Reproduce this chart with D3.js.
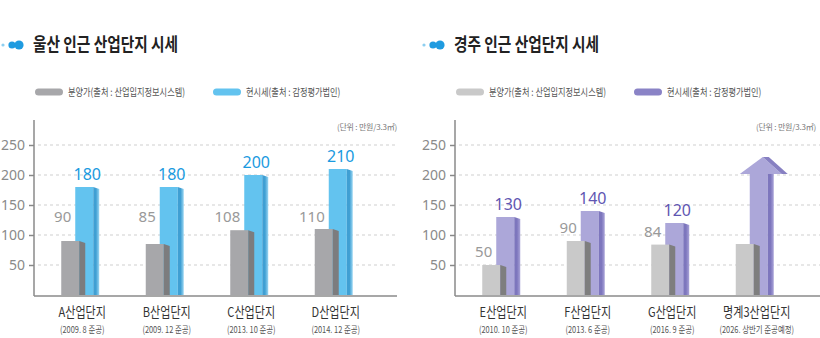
<!DOCTYPE html>
<html>
<head>
<meta charset="utf-8">
<script src="https://cdn.jsdelivr.net/npm/d3@7"></script>
<style>
  body { margin: 0; background: #fff; }
  svg { display: block; font-family: "Noto Sans CJK KR", "Noto Sans", sans-serif; }
</style>
</head>
<body>
<svg id="chart" width="820" height="338"></svg>
<script>
// data
const ulsanSites = ['A산업단지', 'B산업단지', 'C산업단지', 'D산업단지']
const ulsanDates = ['(2009. 8 준공)', '(2009. 12 준공)', '(2013. 10 준공)', '(2014. 12 준공)']
const ulsanSale = [90, 85, 108, 110]
const ulsanMarket = [180, 180, 200, 210]

const gyeongjuSites = ['E산업단지', 'F산업단지', 'G산업단지', '명계3산업단지']
const gyeongjuDates = ['(2010. 10 준공)', '(2013. 6 준공)', '(2016. 9 준공)', '(2026. 상반기 준공예정)']
const gyeongjuSale = [50, 90, 84, 85]
const gyeongjuMarket = [130, 140, 120, 230]
const gyeongjuPlanned = [false, false, false, true]

const yTicks = [50, 100, 150, 200, 250]
const legendSale = '분양가(출처 : 산업입지정보시스템)'
const legendMarket = '현시세(출처 : 감정평가법인)'
const unitText = '(단위 : 만원/3.3㎡)'

const svg = d3.select('#chart')
const defs = svg.append('defs')

// side gradients for the 3d look
function sideGrad(id, c1, c2) {
    const g = defs.append('linearGradient').attr('id', id).attr('x1', 0).attr('x2', 1).attr('y1', 0).attr('y2', 0)
    g.append('stop').attr('offset', '0%').attr('stop-color', c1)
    g.append('stop').attr('offset', '45%').attr('stop-color', c1)
    g.append('stop').attr('offset', '100%').attr('stop-color', c2)
}
sideGrad('blueSide', '#3f9fd3', '#9ad6f2')
sideGrad('purpleSide', '#7d76bd', '#a9a3d8')

// squeeze text horizontally (the original uses a condensed face)
function squeeze(sel, k) {
    sel.each(function(){
        const w = this.getComputedTextLength()
        d3.select(this).attr('textLength', w * k).attr('lengthAdjust', 'spacingAndGlyphs')
    })
}

function drawChart(opt) {
    const ox = opt.ox
    const g = svg.append('g')
    const y = d3.scaleLinear().domain([0, 250]).range([295, 145])
    const x = d3.scaleBand().domain(opt.sites).range([ox + 38, ox + 376])
    const cx = (s) => x(s) + x.bandwidth() / 2

    // title with dots
    g.append('circle').attr('cx', ox + 3).attr('cy', 45).attr('r', 1.6).attr('fill', '#8ecff0')
    g.append('circle').attr('cx', ox + 12).attr('cy', 45).attr('r', 3.6).attr('fill', '#1f9be0')
    g.append('circle').attr('cx', ox + 19).attr('cy', 45).attr('r', 4.6).attr('fill', '#1f9be0')
    g.append('text').attr('x', ox + 33).attr('y', 51).attr('font-size', 18).attr('font-weight', 'bold')
        .attr('fill', '#222').text(opt.title)
        .attr('textLength', 145).attr('lengthAdjust', 'spacingAndGlyphs')

    // legend
    const legend = [
        {label: legendSale, color: opt.saleColor, x: ox + 35},
        {label: legendMarket, color: opt.marketLegend, x: ox + 213}
    ]
    legend.forEach(l => {
        g.append('rect').attr('x', l.x).attr('y', 88.5).attr('width', 28).attr('height', 7).attr('rx', 3.5).attr('fill', l.color)
        g.append('text').attr('x', l.x + 33).attr('y', 95.5).attr('font-size', 10.5).attr('fill', '#555')
            .text(l.label).call(squeeze, 0.78)
    })

    // unit
    g.append('text').attr('x', opt.unitX).attr('y', 130).attr('text-anchor', 'end')
        .attr('font-size', 8).attr('fill', '#777').attr('letter-spacing', -0.2).text(unitText)

    // grid
    g.selectAll('.grid').data(yTicks).join('line')
        .attr('x1', ox + 38).attr('x2', opt.gridEnd)
        .attr('y1', d => y(d)).attr('y2', d => y(d))
        .attr('stroke', '#cfcfcf').attr('stroke-dasharray', '3,3')

    // y axis
    const axis = g.append('g').attr('transform', `translate(${ox + 34},0)`)
        .call(d3.axisLeft(y).tickValues(yTicks).tickSize(5).tickPadding(4))
    axis.select('.domain').remove()
    axis.selectAll('line').attr('stroke', '#888').attr('stroke-width', 1.5)
    axis.selectAll('text').attr('font-size', 14).attr('fill', '#8a8a8a')
        .attr('font-family', '"Noto Sans", sans-serif')
    g.append('line').attr('x1', ox + 34).attr('x2', ox + 34).attr('y1', 120).attr('y2', 296)
        .attr('stroke', '#8a8a8a').attr('stroke-width', 1.5)

    const rows = opt.sites.map((s, i) => ({
        site: s, date: opt.dates[i], sale: opt.sale[i], market: opt.market[i],
        planned: opt.planned ? opt.planned[i] : false
    }))
    const w = 18, side = 6

    // market bars (behind)
    rows.forEach(d => {
        const bx = cx(d.site) - 5
        if (d.planned) {
            const top = y(d.market), hb = top + 17
            g.append('rect').attr('x', bx).attr('y', hb).attr('width', w).attr('height', y(0) - hb).attr('fill', opt.marketColor)
            g.append('rect').attr('x', bx + w).attr('y', hb).attr('width', side).attr('height', y(0) - hb).attr('fill', 'url(#purpleSide)')
            g.append('polygon').attr('points', [[bx - 10, hb], [bx + 13, top], [bx + 32, hb]].join(' '))
                .attr('fill', opt.marketColor)
            g.append('polygon').attr('points', [[bx + 13, top], [bx + 19, top], [bx + 38, hb], [bx + 32, hb]].join(' '))
                .attr('fill', opt.marketSide)
            return
        }
        const top = y(d.market)
        g.append('rect').attr('x', bx).attr('y', top).attr('width', w).attr('height', y(0) - top).attr('fill', opt.marketColor)
        g.append('polygon').attr('points', [[bx + w, top], [bx + w + side, top + 2], [bx + w + side, y(0)], [bx + w, y(0)]].join(' '))
            .attr('fill', opt.marketGrad)
        g.append('text').attr('x', bx + (w + side) / 2).attr('y', top - 7).attr('text-anchor', 'middle')
            .attr('font-size', 16).attr('fill', opt.labelColor).attr('font-family', '"Noto Sans", sans-serif')
            .text(d.market)
    })

    // sale bars (front)
    rows.forEach(d => {
        const gx = cx(d.site) - 19
        const top = y(d.sale)
        g.append('rect').attr('x', gx).attr('y', top).attr('width', w).attr('height', y(0) - top).attr('fill', opt.saleColor)
        g.append('polygon').attr('points', [[gx + w, top], [gx + w + side, top + 2], [gx + w + side, y(0)], [gx + w, y(0)]].join(' '))
            .attr('fill', opt.saleSide)
        if (d.planned) return
        const ly = opt.saleLabelFixed ? y(opt.saleLabelFixed) : top - 8
        g.append('text').attr('x', gx + 10).attr('y', ly).attr('text-anchor', 'end')
            .attr('font-size', 15).attr('fill', '#999').attr('font-family', '"Noto Sans", sans-serif')
            .text(d.sale)
    })

    // baseline
    g.append('line').attr('x1', ox + 34).attr('x2', opt.gridEnd).attr('y1', 296).attr('y2', 296)
        .attr('stroke', '#8a8a8a').attr('stroke-width', 1.5)

    // category labels
    rows.forEach(d => {
        g.append('text').attr('x', cx(d.site) + 2).attr('y', 317).attr('text-anchor', 'middle')
            .attr('font-size', 13.5).attr('fill', '#333').text(d.site).call(squeeze, 0.82)
        g.append('text').attr('x', cx(d.site) + 2).attr('y', 333).attr('text-anchor', 'middle')
            .attr('font-size', 9.5).attr('fill', '#555').text(d.date).call(squeeze, 0.78)
    })
}

drawChart({
    ox: 0, title: '울산 인근 산업단지 시세',
    sites: ulsanSites, dates: ulsanDates, sale: ulsanSale, market: ulsanMarket,
    saleColor: '#a7a7aa', saleSide: '#7c7c7e',
    marketColor: '#63c3ef', marketGrad: 'url(#blueSide)', marketLegend: '#63c3ef', labelColor: '#1a9ae0',
    saleLabelFixed: 122, unitX: 397, gridEnd: 397
})

drawChart({
    ox: 421, title: '경주 인근 산업단지 시세',
    sites: gyeongjuSites, dates: gyeongjuDates, sale: gyeongjuSale, market: gyeongjuMarket, planned: gyeongjuPlanned,
    saleColor: '#c9c9c9', saleSide: '#7e7e7e',
    marketColor: '#aca7d9', marketGrad: 'url(#purpleSide)', marketSide: '#8780c2', marketLegend: '#8a83c6', labelColor: '#5f56b2',
    saleLabelFixed: null, unitX: 816, gridEnd: 820
})
</script>
</body>
</html>
